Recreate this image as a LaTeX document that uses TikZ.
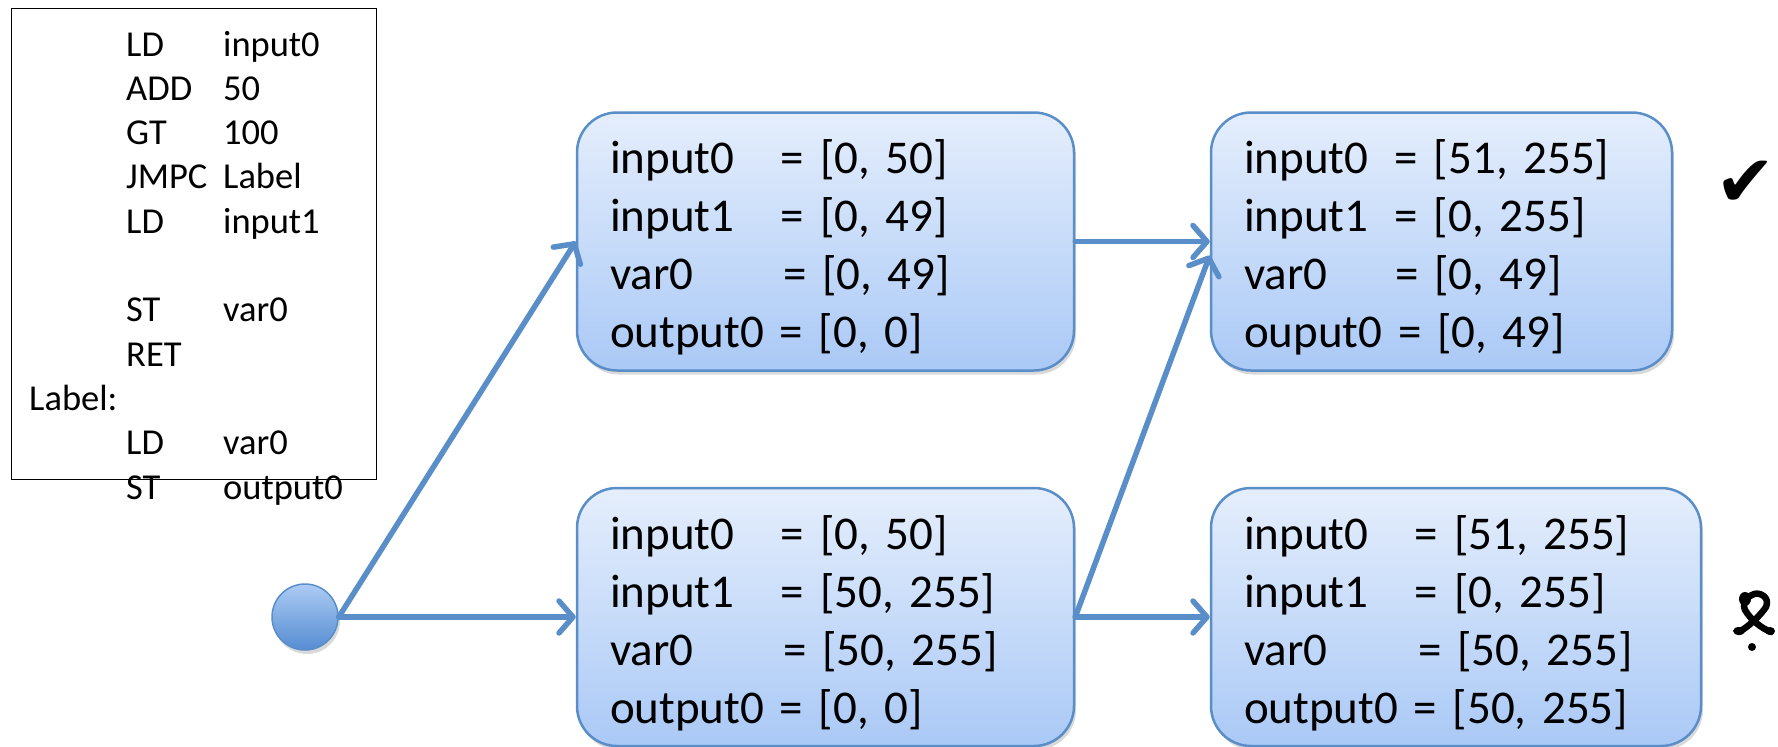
\documentclass[tikz,border=0pt]{standalone}
\usepackage{fontspec}
\setmainfont{Carlito}
\newfontfamily\symfont{DejaVu Sans}
\usetikzlibrary{arrows.meta,shadows,calc}

\definecolor{linkblue}{RGB}{90,142,200}
\definecolor{boxtop}{RGB}{229,238,252}
\definecolor{boxbot}{RGB}{170,201,246}
\definecolor{dottop}{RGB}{172,204,244}
\definecolor{dotbot}{RGB}{86,140,210}

\begin{document}
\begin{tikzpicture}[x=1pt,y=1pt,
  statebox/.style={draw=linkblue, line width=2.5pt, rounded corners=40pt,
    top color=boxtop, bottom color=boxbot,
    drop shadow={shadow xshift=2pt, shadow yshift=-4pt, opacity=0.3},
    inner xsep=33pt, inner ysep=0pt, align=left,
    font=\fontsize{47}{58}\selectfont, minimum height=258pt},
  flow/.style={draw=linkblue, line width=5.5pt, line cap=round,
    -{Straight Barb[length=14pt,width=32pt,round]}},
  codeline/.style={anchor=base west, inner sep=0pt, font=\fontsize{36.5}{40}\selectfont},
]
\useasboundingbox (0,0) rectangle (1778,-747);

% program listing
\node[draw, line width=1.3pt, minimum width=365pt, minimum height=471pt,
  anchor=north west, inner sep=0pt] (code) at (11,-8) {};
\node[codeline] (l1)  at (126,-56)    {\makebox[97pt][l]{LD}input0};
\node[codeline] (l2)  at (126,-100.3) {\makebox[97pt][l]{ADD}50};
\node[codeline] (l3)  at (126,-144.6) {\makebox[97pt][l]{GT}100};
\node[codeline] (l4)  at (126,-188.9) {\makebox[97pt][l]{JMPC}Label};
\node[codeline] (l5)  at (126,-233.2) {\makebox[97pt][l]{LD}input1};
\node[codeline] (l6)  at (126,-321.8) {\makebox[97pt][l]{ST}var0};
\node[codeline] (l7)  at (126,-366.1) {RET};
\node[codeline] (l8)  at (29,-410.4)  {Label:};
\node[codeline] (l9)  at (126,-454.7) {\makebox[97pt][l]{LD}var0};
\node[codeline] (l10) at (126,-499)   {\makebox[97pt][l]{ST}output0};

% entry point
\node[circle, draw=linkblue, line width=1.5pt, minimum size=66pt, inner sep=0pt,
  top color=dottop, bottom color=dotbot,
  drop shadow={shadow xshift=2pt, shadow yshift=-4pt, opacity=0.3}] (start) at (305,-617) {};

% abstract states
\node[statebox, text width=431pt, minimum width=497pt] (b1) at (825.5,-241.5)
  {\rule{0pt}{46pt}\makebox[171pt][l]{input0}= [0, 50]\\
   \makebox[171pt][l]{input1}= [0, 49]\\
   \makebox[173pt][l]{var0}= [0, 49]\\
   output0 = [0, 0]};
\node[statebox, text width=431pt, minimum width=497pt] (b2) at (825.5,-617)
  {\rule{0pt}{46pt}\makebox[171pt][l]{input0}= [0, 50]\\
   \makebox[171pt][l]{input1}= [50, 255]\\
   \makebox[173pt][l]{var0}= [50, 255]\\
   output0 = [0, 0]};
\node[statebox, text width=395pt, minimum width=461pt] (b3) at (1441.5,-241.5)
  {\rule{0pt}{46pt}\makebox[151pt][l]{input0}= [51, 255]\\
   \makebox[151pt][l]{input1}= [0, 255]\\
   \makebox[151pt][l]{var0}= [0, 49]\\
   ouput0 = [0, 49]};
\node[statebox, text width=424pt, minimum width=490pt] (b4) at (1456,-617)
  {\rule{0pt}{46pt}\makebox[171pt][l]{input0}= [51, 255]\\
   \makebox[171pt][l]{input1}= [0, 255]\\
   \makebox[174pt][l]{var0}= [50, 255]\\
   output0 = [50, 255]};

% transitions
\draw[flow] (start.east) -- (b1.west);
\draw[flow] (start.east) -- (b2.west);
\draw[flow] (b1.east) -- (b3.west);
\draw[flow] (b2.east) -- ($(b3.west)+(0,-14)$);
\draw[flow] (b2.east) -- (b4.west);

% verdicts
\node[inner sep=0pt, anchor=east, font=\symfont\fontsize{72}{72}\selectfont] (ok) at (1776,-184) {✔};
\draw[line width=6.5pt, line cap=round, line join=round]
  (1739,-632) .. controls (1748,-627) and (1760,-616) .. (1766,-607)
  .. controls (1770,-598) and (1761,-592) .. (1754,-594)
  .. controls (1747,-596) and (1742,-603) .. (1745,-610)
  .. controls (1751,-620) and (1761,-628) .. (1771,-632);
\fill (1745,-599) ellipse (6 and 7);
\fill (1739,-631) ellipse (6 and 4);
\fill (1770,-631) ellipse (5 and 4);
\fill (1752,-647) circle (4);
\end{tikzpicture}
\end{document}
